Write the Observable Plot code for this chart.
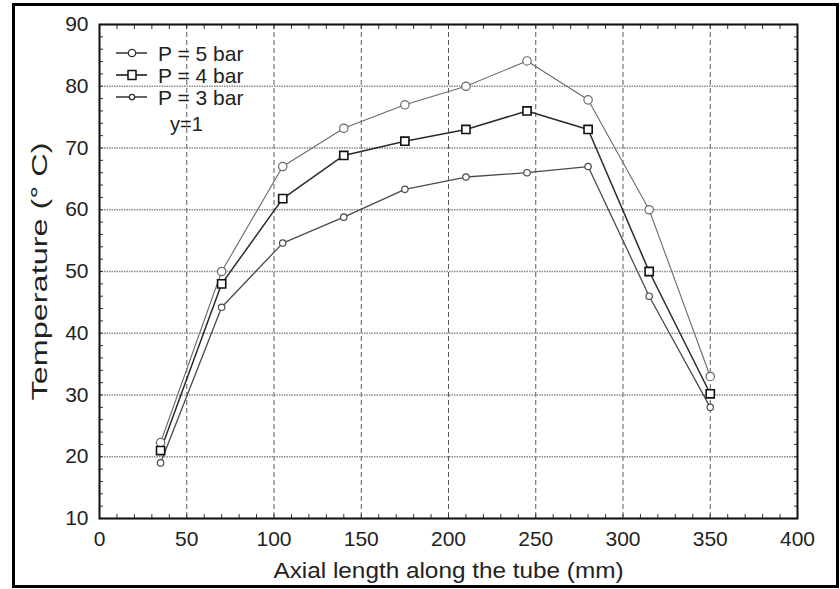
<!DOCTYPE html>
<html>
<head>
<meta charset="utf-8">
<script src="https://cdn.jsdelivr.net/npm/d3@7"></script>
<script src="https://cdn.jsdelivr.net/npm/@observablehq/plot@0.6"></script>
<style>
  html, body { margin: 0; padding: 0; background: #fff; }
  #wrap { position: relative; width: 840px; height: 589px; overflow: hidden; }
  #border { position: absolute; left: 12px; top: 3px; width: 821px; height: 579px; border: 3px solid #000; box-sizing: content-box; pointer-events: none; }
  #chart { position: absolute; left: 0; top: 0; }
  #legend { position: absolute; left: 0; top: 0; }
</style>
</head>
<body>
<div id="wrap">
  <div id="chart"></div>
  <svg id="legend" width="840" height="589"></svg>
  <div id="border"></div>
</div>
<script>
// ---- data ----
const xPositions = [35, 70, 105, 140, 175, 210, 245, 280, 315, 350];
const seriesNames = ["P = 5 bar", "P = 4 bar", "P = 3 bar"];
const p5Values = [22.3, 50, 67, 73.2, 77, 80, 84.1, 77.8, 60, 33];
const p4Values = [21, 48, 61.8, 68.8, 71.1, 73, 76, 73, 50, 30.2];
const p3Values = [19, 44.2, 54.6, 58.8, 63.3, 65.3, 66, 67, 46, 28];
const xTicks = [0, 50, 100, 150, 200, 250, 300, 350, 400];
const yTicks = [10, 20, 30, 40, 50, 60, 70, 80, 90];
const xMinorTicks = d3.range(0, 401, 10);
const yMinorTicks = d3.range(10, 91, 2);
const noteText = "y=1";
const xLabel = "Axial length along the tube (mm)";
const yLabel = "Temperature (° C)";

const seriesValues = [p5Values, p4Values, p3Values];
const styles = [
  {stroke: "#6a6a6a", width: 1.1, symbol: "circle", r: 4.2},
  {stroke: "#2a2a2a", width: 1.5, symbol: "square", r: 4.6},
  {stroke: "#4a4a4a", width: 1.3, symbol: "circle", r: 3.2}
];
const rows = seriesNames.flatMap((name, i) =>
  xPositions.map((x, j) => ({series: name, x, y: seriesValues[i][j]})));

const font = "'Liberation Sans', Arial, Helvetica, sans-serif";

const lineMarks = seriesNames.map((name, i) =>
  Plot.line(rows.filter(d => d.series === name), {x: "x", y: "y", stroke: styles[i].stroke, strokeWidth: styles[i].width}));
const dotMarks = seriesNames.map((name, i) =>
  Plot.dot(rows.filter(d => d.series === name), {x: "x", y: "y", symbol: styles[i].symbol, r: styles[i].r, fill: "white", stroke: i === 1 ? "#111" : styles[i].stroke, strokeWidth: i === 1 ? 1.6 : 1.2}));

const chart = Plot.plot({
  width: 840,
  height: 589,
  marginLeft: 99,
  marginRight: 43,
  marginTop: 24,
  marginBottom: 71,
  style: {fontFamily: font, fontSize: "21px", background: "transparent", color: "#222"},
  x: {domain: [0, 400]},
  y: {domain: [10, 90]},
  marks: [
    Plot.gridX(xTicks, {stroke: "#333", strokeOpacity: 1, strokeWidth: 0.8, strokeDasharray: "5,3"}),
    Plot.gridY(yTicks, {stroke: "#8a8a8a", strokeOpacity: 1, strokeWidth: 1.6, strokeDasharray: "1.5,1"}),
    Plot.axisX(xMinorTicks, {anchor: "bottom", tickSize: -4, text: null, label: null, stroke: "#333"}),
    Plot.axisX(xMinorTicks, {anchor: "top", tickSize: -4, text: null, label: null, stroke: "#333"}),
    Plot.axisY(yMinorTicks, {anchor: "left", tickSize: -4, text: null, label: null, stroke: "#333"}),
    Plot.axisY(yMinorTicks, {anchor: "right", tickSize: -4, text: null, label: null, stroke: "#333"}),
    Plot.frame({stroke: "#111", strokeWidth: 2}),
    Plot.axisX(xTicks, {anchor: "bottom", tickSize: 0, tickPadding: 13, fontSize: 21, label: xLabel, labelAnchor: "center", labelOffset: 59, labelArrow: "none"}),
    Plot.axisY(yTicks, {anchor: "left", tickSize: 0, tickPadding: 11, fontSize: 21, label: yLabel, labelAnchor: "center", labelOffset: 68, labelArrow: "none"}),
    ...lineMarks,
    ...dotMarks
  ]
});
chart.querySelectorAll("[aria-label='x-axis label'] text").forEach(t => {
  t.setAttribute("font-size", "22");
  t.setAttribute("textLength", "350");
  t.setAttribute("lengthAdjust", "spacingAndGlyphs");
});
chart.querySelectorAll("[aria-label='y-axis label'] text").forEach(t => {
  t.setAttribute("font-size", "22");
  t.setAttribute("textLength", "258");
  t.setAttribute("lengthAdjust", "spacingAndGlyphs");
});
document.getElementById("chart").appendChild(chart);

// ---- legend (HTML/SVG overlay) ----
const legend = d3.select("#legend").style("font-family", font);
const rowY = [53, 75, 97];
seriesNames.forEach((name, i) => {
  const g = legend.append("g").attr("transform", `translate(0,${rowY[i]})`);
  g.append("line").attr("x1", 116).attr("x2", 147).attr("y1", 0).attr("y2", 0)
    .attr("stroke", i === 1 ? "#111" : "#333").attr("stroke-width", 1.5);
  if (styles[i].symbol === "square") {
    g.append("rect").attr("x", 128).attr("y", -4.5).attr("width", 8).attr("height", 9)
      .attr("fill", "white").attr("stroke", "#111").attr("stroke-width", 1.5);
  } else {
    g.append("circle").attr("cx", 132).attr("cy", 0).attr("r", styles[i].r - 0.5)
      .attr("fill", "white").attr("stroke", "#333").attr("stroke-width", 1.3);
  }
  g.append("text").attr("x", 158).attr("y", 7.5).attr("font-size", 21).attr("fill", "#222").text(name);
});
legend.append("text").attr("x", 170).attr("y", 131).attr("font-size", 20).attr("fill", "#222").text(noteText);
</script>
</body>
</html>
